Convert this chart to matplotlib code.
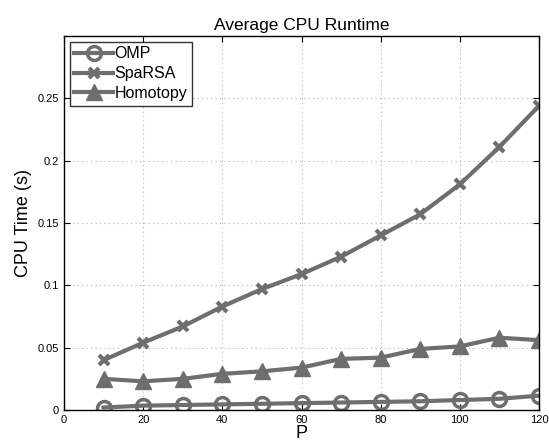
import matplotlib
matplotlib.use("Agg")
import matplotlib.pyplot as plt

plt.rcParams['font.family'] = ['Liberation Sans', 'DejaVu Sans']

p = [10, 20, 30, 40, 50, 60, 70, 80, 90, 100, 110, 120]
omp = [0.002, 0.0035, 0.004, 0.0045, 0.005, 0.0055, 0.006, 0.0065, 0.007, 0.008, 0.009, 0.0115]
sparsa = [0.040, 0.054, 0.067, 0.083, 0.097, 0.109, 0.123, 0.140, 0.157, 0.181, 0.211, 0.244]
homotopy = [0.025, 0.023, 0.025, 0.029, 0.031, 0.034, 0.041, 0.042, 0.049, 0.051, 0.058, 0.056]

gray = '#6e6e6e'

fig = plt.figure(figsize=(5.49, 4.43), dpi=100)
ax = fig.add_axes([64 / 549, 1 - 410 / 443, 475 / 549, 374 / 443])

ax.plot(p, omp, color=gray, lw=3, marker='o', ms=10, mfc='none', mew=2.5, label='OMP')
ax.plot(p, sparsa, color=gray, lw=3, marker='x', ms=7, mew=3, label='SpaRSA')
ax.plot(p, homotopy, color=gray, lw=3, marker='^', ms=11, label='Homotopy')

ax.set_xlim(0, 120)
ax.set_ylim(0, 0.3)
ax.set_xticks(range(0, 121, 20))
ax.set_yticks([0, 0.05, 0.1, 0.15, 0.2, 0.25])
ax.set_yticklabels(['0', '0.05', '0.1', '0.15', '0.2', '0.25'])
ax.tick_params(labelsize=8, direction='in', length=4, top=True, right=True)
ax.grid(True, linestyle=(0, (1, 3)), color='#b0b0b0', lw=0.8)
for s in ax.spines.values():
    s.set_linewidth(1)

ax.set_xlabel('P', fontsize=13, labelpad=0)
ax.set_ylabel('CPU Time (s)', fontsize=13)
ax.set_title('Average CPU Runtime', fontsize=12.5, pad=4)

leg = ax.legend(loc='upper left', fontsize=11.5, frameon=True, fancybox=False,
                edgecolor='black', borderpad=0.3, labelspacing=0.3,
                handlelength=2.4, handletextpad=0.1, borderaxespad=0.35)
leg.get_frame().set_linewidth(1)

fig.savefig('out.png', dpi=100)
